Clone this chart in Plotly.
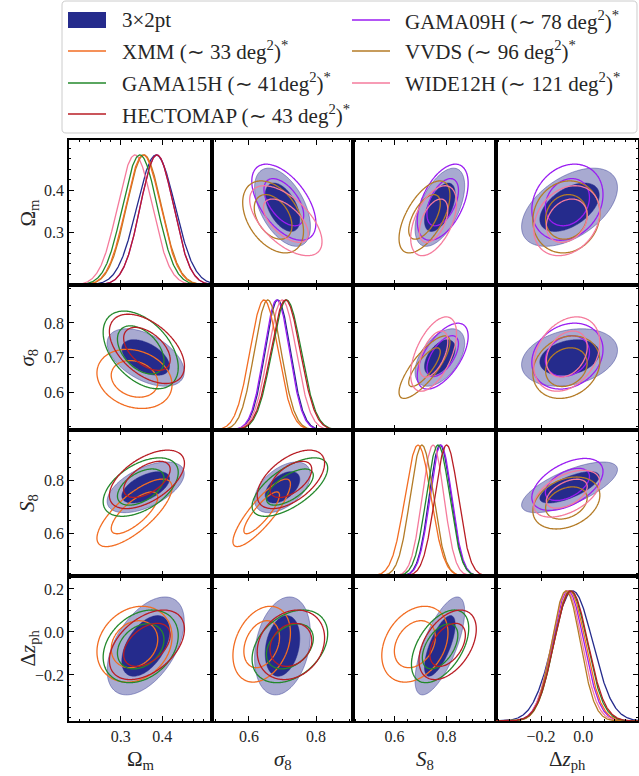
import numpy as np
import plotly.graph_objects as go

W, H = 639, 776

# ---------------- data ----------------
labels = ["3×2pt",
          "XMM (∼ 33 deg<sup>2</sup>)<sup>*</sup>",
          "GAMA15H (∼ 41deg<sup>2</sup>)<sup>*</sup>",
          "HECTOMAP (∼ 43 deg<sup>2</sup>)<sup>*</sup>",
          "GAMA09H (∼ 78 deg<sup>2</sup>)<sup>*</sup>",
          "VVDS (∼ 96 deg<sup>2</sup>)<sup>*</sup>",
          "WIDE12H (∼ 121 deg<sup>2</sup>)<sup>*</sup>"]
colors = ["#252b8c", "#f26d22", "#23882b", "#b81d24", "#9a1df2", "#b47b26", "#f57b9c"]

params = ["Om", "s8", "S8", "dz"]
param_titles = ["Ω<sub>m</sub>", "<i>σ</i><sub>8</sub>", "<i>S</i><sub>8</sub>", "Δ<i>z</i><sub>ph</sub>"]
range_Om = [0.175, 0.52]
range_s8 = [0.49, 0.91]
range_S8 = [0.44, 0.99]
range_dz = [-0.414, 0.26]

xticks_Om = [0.3, 0.4];  yticks_Om = [0.3, 0.4]
xticks_s8 = [0.6, 0.8];  yticks_s8 = [0.6, 0.7, 0.8]
xticks_S8 = [0.6, 0.8];  yticks_S8 = [0.6, 0.8]
xticks_dz = [-0.2, 0.0]; yticks_dz = [-0.2, 0.0, 0.2]
minor_Om, minor_s8, minor_S8, minor_dz = 0.025, 0.05, 0.05, 0.05

# 2D posterior centres / widths (per dataset, order of labels)
mean_Om = [0.360, 0.333, 0.348, 0.363, 0.372, 0.337, 0.328]
sig_Om = [0.038, 0.037, 0.037, 0.037, 0.037, 0.035, 0.034]
mean_s8 = [0.700, 0.638, 0.722, 0.725, 0.704, 0.672, 0.710]
sig_s8 = [0.034, 0.035, 0.046, 0.041, 0.039, 0.037, 0.044]
mean_S8 = [0.774, 0.678, 0.775, 0.804, 0.785, 0.715, 0.750]
sig_S8 = [0.039, 0.052, 0.045, 0.045, 0.040, 0.040, 0.036]
mean_dz = [-0.065, -0.057, -0.067, -0.060, -0.075, -0.080, -0.078]
sig_dz = [0.093, 0.072, 0.069, 0.066, 0.069, 0.065, 0.064]
corr_Om_s8 = [-0.50, -0.20, -0.45, -0.50, -0.55, -0.40, -0.60]
corr_Om_S8 = [0.55, 0.75, 0.50, 0.55, 0.50, 0.60, 0.50]
corr_Om_dz = [0.50, 0.20, 0.30, 0.45, 0.20, 0.10, 0.25]
corr_s8_S8 = [0.50, 0.85, 0.65, 0.55, 0.60, 0.80, 0.55]
corr_s8_dz = [0.25, 0.30, 0.35, 0.20, 0.20, 0.20, 0.30]
corr_S8_dz = [0.70, 0.30, 0.50, 0.45, 0.50, 0.30, 0.50]

# 1D marginal peaks / widths
peak_Om = [0.385, 0.354, 0.346, 0.387, 0.387, 0.356, 0.334]
width_Om = [0.046, 0.042, 0.042, 0.040, 0.040, 0.042, 0.042]
peak_s8 = [0.686, 0.645, 0.712, 0.709, 0.683, 0.656, 0.699]
width_s8 = [0.038, 0.042, 0.044, 0.044, 0.038, 0.040, 0.042]
peak_S8 = [0.775, 0.690, 0.767, 0.800, 0.778, 0.705, 0.748]
width_S8 = [0.042, 0.050, 0.045, 0.045, 0.042, 0.045, 0.042]
peak_dz = [-0.050, -0.065, -0.060, -0.058, -0.072, -0.082, -0.078]
width_dz = [0.095, 0.075, 0.078, 0.080, 0.075, 0.068, 0.072]

lower_sets = [0, 1, 2, 3]
upper_sets = [0, 4, 5, 6]
levels_chi2 = [2.30, 5.99]   # 68% and 95% 2D contours

# ---------------- lookups ----------------
rng = dict(Om=range_Om, s8=range_s8, S8=range_S8, dz=range_dz)
xticks = dict(Om=xticks_Om, s8=xticks_s8, S8=xticks_S8, dz=xticks_dz)
yticks = dict(Om=yticks_Om, s8=yticks_s8, S8=yticks_S8, dz=yticks_dz)
minors = dict(Om=minor_Om, s8=minor_s8, S8=minor_S8, dz=minor_dz)
means = dict(Om=mean_Om, s8=mean_s8, S8=mean_S8, dz=mean_dz)
sigs = dict(Om=sig_Om, s8=sig_s8, S8=sig_S8, dz=sig_dz)
peaks = dict(Om=peak_Om, s8=peak_s8, S8=peak_S8, dz=peak_dz)
widths = dict(Om=width_Om, s8=width_s8, S8=width_S8, dz=width_dz)
corrs = {("Om", "s8"): corr_Om_s8, ("Om", "S8"): corr_Om_S8, ("Om", "dz"): corr_Om_dz,
         ("s8", "S8"): corr_s8_S8, ("s8", "dz"): corr_s8_dz, ("S8", "dz"): corr_S8_dz}


def get_corr(i, a, b):
    if (a, b) in corrs:
        return corrs[(a, b)][i]
    return corrs[(b, a)][i]


def fmt(v):
    return ("−" if v < 0 else "") + f"{abs(v):.1f}"


# ---------------- layout geometry (pixels) ----------------
col_edges = [69, 212, 353, 496, 638]
row_edges = [140, 285, 430, 576, 721]
FONT = "Liberation Serif"
TXT = "#262626"

fig = go.Figure()
layout = {}

for r in range(4):
    for c in range(4):
        k = r * 4 + c + 1
        xid = "x" if k == 1 else f"x{k}"
        yid = "y" if k == 1 else f"y{k}"
        xa = "xaxis" if k == 1 else f"xaxis{k}"
        ya = "yaxis" if k == 1 else f"yaxis{k}"
        xp, yp = params[c], params[r]
        common = dict(showline=True, linecolor="black", linewidth=1.6, mirror="allticks",
                      ticks="inside", ticklen=5, tickwidth=1, tickcolor="black",
                      showgrid=False, zeroline=False, fixedrange=True,
                      tickfont=dict(family=FONT, size=16, color=TXT))
        layout[xa] = dict(common, domain=[col_edges[c] / W, col_edges[c + 1] / W],
                          range=rng[xp], anchor=yid,
                          tickvals=xticks[xp], ticktext=[fmt(v) for v in xticks[xp]],
                          showticklabels=(r == 3),
                          minor=dict(ticks="inside", ticklen=2.5, tickwidth=0.8, tickcolor="black",
                                     dtick=minors[xp], tick0=0, showgrid=False))
        layout[ya] = dict(common, domain=[1 - row_edges[r + 1] / H, 1 - row_edges[r] / H],
                          range=rng[yp], anchor=xid,
                          tickvals=yticks[yp], ticktext=[fmt(v) for v in yticks[yp]],
                          showticklabels=(c == 0),
                          minor=dict(ticks="inside", ticklen=2.5, tickwidth=0.8, tickcolor="black",
                                     dtick=minors[yp], tick0=0, showgrid=False))

        if r == c:
            lo, hi = rng[xp]
            ylo, yhi = rng[yp]
            xs = np.linspace(lo, hi, 400)
            order = [0, 4, 6, 5, 1, 2, 3]
            for i in order:
                p = np.exp(-0.5 * ((xs - peaks[xp][i]) / widths[xp][i]) ** 2)
                fig.add_trace(go.Scatter(x=xs, y=ylo + (yhi - ylo) * 0.897 * p, mode="lines",
                                         line=dict(color=colors[i], width=1.3),
                                         xaxis=xid, yaxis=yid, showlegend=False,
                                         hoverinfo="skip"))
        else:
            sets = lower_sets if r > c else upper_sets
            gx = np.linspace(rng[xp][0], rng[xp][1], 160)
            gy = np.linspace(rng[yp][0], rng[yp][1], 160)
            X, Y = np.meshgrid(gx, gy)
            for i in sets:
                rho = get_corr(i, xp, yp)
                dx = (X - means[xp][i]) / sigs[xp][i]
                dy = (Y - means[yp][i]) / sigs[yp][i]
                chi2 = (dx ** 2 - 2 * rho * dx * dy + dy ** 2) / (1 - rho ** 2)
                if i == 0:
                    fig.add_trace(go.Contour(x=gx, y=gy, z=chi2, showscale=False,
                                             contours=dict(type="constraint", operation=">",
                                                           value=levels_chi2[1]),
                                             fillcolor="rgba(37,43,140,0.40)",
                                             line=dict(color="rgba(37,43,140,0.55)", width=0.8),
                                             xaxis=xid, yaxis=yid, hoverinfo="skip"))
                    fig.add_trace(go.Contour(x=gx, y=gy, z=chi2, showscale=False,
                                             contours=dict(type="constraint", operation=">",
                                                           value=levels_chi2[0]),
                                             fillcolor=colors[0],
                                             line=dict(color=colors[0], width=0.5),
                                             xaxis=xid, yaxis=yid, hoverinfo="skip"))
                else:
                    fig.add_trace(go.Contour(x=gx, y=gy, z=chi2, showscale=False,
                                             contours=dict(start=levels_chi2[0], end=levels_chi2[1],
                                                           size=levels_chi2[1] - levels_chi2[0],
                                                           coloring="none"),
                                             line=dict(color=colors[i], width=1.3),
                                             xaxis=xid, yaxis=yid, hoverinfo="skip"))

# ---------------- axis titles ----------------
annotations = []
for r in range(4):
    annotations.append(dict(text=param_titles[r], xref="paper", yref="paper",
                            x=28 / W, y=1 - (row_edges[r] + row_edges[r + 1]) / 2 / H,
                            textangle=-90, showarrow=False, xanchor="center", yanchor="middle",
                            font=dict(family=FONT, size=21, color=TXT)))
for c in range(4):
    annotations.append(dict(text=param_titles[c], xref="paper", yref="paper",
                            x=(col_edges[c] + col_edges[c + 1]) / 2 / W, y=1 - 760 / H,
                            showarrow=False, xanchor="center", yanchor="middle",
                            font=dict(family=FONT, size=21, color=TXT)))

# ---------------- legend (drawn) ----------------
def rounded_rect(x0, y0, x1, y1, rad):
    # pixel box -> paper-coordinate SVG path with rounded corners
    def P(x, y):
        return f"{x / W:.5f},{1 - y / H:.5f}"
    return (f"M {P(x0 + rad, y0)} L {P(x1 - rad, y0)} Q {P(x1, y0)} {P(x1, y0 + rad)} "
            f"L {P(x1, y1 - rad)} Q {P(x1, y1)} {P(x1 - rad, y1)} "
            f"L {P(x0 + rad, y1)} Q {P(x0, y1)} {P(x0, y1 - rad)} "
            f"L {P(x0, y0 + rad)} Q {P(x0, y0)} {P(x0 + rad, y0)} Z")


shapes = [dict(type="path", xref="paper", yref="paper", path=rounded_rect(62, 1, 637, 133, 4),
               line=dict(color="#cccccc", width=1), fillcolor="white", layer="below")]
leg_cols = [(68, 106, 120), (352, 390, 403)]
leg_rows = [20, 51, 83, 114]
leg_pos = [(0, 0), (0, 1), (0, 2), (0, 3), (1, 0), (1, 1), (1, 2)]
for i, (cc, rr) in enumerate(leg_pos):
    x0, x1, xt = leg_cols[cc]
    yc = leg_rows[rr]
    if i == 0:
        shapes.append(dict(type="rect", xref="paper", yref="paper", x0=x0 / W, x1=x1 / W,
                           y0=1 - (yc + 8) / H, y1=1 - (yc - 8) / H,
                           line=dict(width=0), fillcolor=colors[0]))
    else:
        shapes.append(dict(type="line", xref="paper", yref="paper", x0=x0 / W, x1=x1 / W,
                           y0=1 - yc / H, y1=1 - yc / H, line=dict(color=colors[i], width=1.5)))
    annotations.append(dict(text=labels[i], xref="paper", yref="paper", x=xt / W, y=1 - yc / H,
                            showarrow=False, xanchor="left", yanchor="middle",
                            font=dict(family=FONT, size=21, color=TXT)))

fig.update_layout(**layout)
fig.update_layout(width=W, height=H, margin=dict(l=0, r=0, t=0, b=0),
                  paper_bgcolor="white", plot_bgcolor="white", showlegend=False,
                  annotations=annotations, shapes=shapes)
fig.write_html("out.html", config={"displayModeBar": False},
               post_script="document.body.style.margin='0';document.body.style.overflow='hidden';")
